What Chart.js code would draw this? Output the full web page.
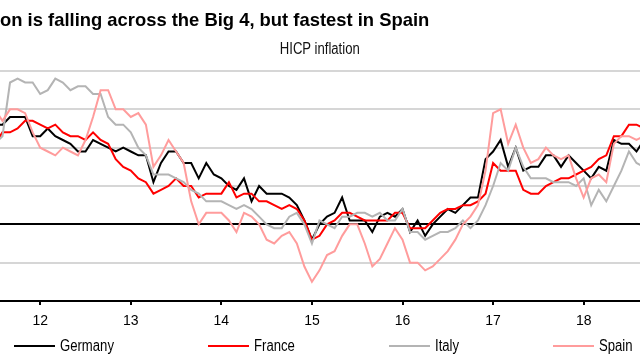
<!DOCTYPE html>
<html>
<head>
<meta charset="utf-8">
<script src="https://cdn.jsdelivr.net/npm/chart.js@4"></script>
<style>
html,body{margin:0;padding:0;background:#fff;}
#wrap{position:relative;width:640px;height:360px;overflow:hidden;background:#fff;}
#c{position:absolute;left:0;top:0;}
#title{position:absolute;left:-49px;top:11px;font-family:'Liberation Sans',Arial,sans-serif;font-weight:bold;font-size:18.4px;line-height:18px;white-space:nowrap;color:#000;}
#subtitle{position:absolute;left:0;top:41px;width:640px;text-align:center;font-family:'Liberation Sans',Arial,sans-serif;font-size:16px;line-height:16px;color:#111;}
#subtitle span{display:inline-block;transform:scaleX(0.82);transform-origin:50% 50%;}
#legend{position:absolute;left:14px;top:338px;display:flex;gap:94px;font-family:'Liberation Sans',Arial,sans-serif;font-size:16px;line-height:16px;color:#000;white-space:nowrap;}
.item{display:flex;align-items:center;}
.swatch{width:41px;height:2px;margin-right:5px;flex:none;}
.tbox{overflow:visible;}
.tbox span{display:inline-block;transform:scaleX(0.82);transform-origin:0 50%;}
</style>
</head>
<body>
<div id="wrap">
  <canvas id="c" width="640" height="360"></canvas>
  <div id="title">Inflation is falling across the Big 4, but fastest in Spain</div>
  <div id="subtitle"><span>HICP inflation</span></div>
  <div id="legend"></div>
</div>
<script>
// ---- data ----
const seriesNames = ['Germany', 'France', 'Italy', 'Spain'];
const seriesColors = ['#000000', '#ff0000', '#b4b4b4', '#ff9c9c'];
// monthly, July 2011 .. September 2018
const startYear = 2011, startMonth = 7;
const germany = [
  2.6, 2.6, 2.8, 2.8, 2.8, 2.3,
  2.3, 2.5, 2.3, 2.2, 2.1, 1.9, 1.9, 2.2, 2.1, 2.0, 1.9, 2.0,
  1.9, 1.8, 1.8, 1.1, 1.6, 1.9, 1.9, 1.6, 1.6, 1.2, 1.6, 1.3,
  1.2, 1.0, 0.9, 1.2, 0.6, 1.0, 0.8, 0.8, 0.8, 0.7, 0.5, 0.1,
  -0.4, 0.0, 0.2, 0.3, 0.7, 0.1, 0.1, 0.1, -0.2, 0.2, 0.3, 0.2,
  0.4, -0.2, 0.1, -0.3, 0.0, 0.2, 0.4, 0.3, 0.5, 0.7, 0.7, 1.7,
  1.9, 2.2, 1.5, 2.0, 1.4, 1.5, 1.5, 1.8, 1.8, 1.5, 1.8, 1.6,
  1.4, 1.2, 1.5, 1.4, 2.2, 2.1, 2.1, 1.9, 2.2
];
const france = [
  2.1, 2.4, 2.4, 2.5, 2.7, 2.7,
  2.6, 2.5, 2.6, 2.4, 2.3, 2.3, 2.2, 2.4, 2.2, 2.1, 1.7, 1.5,
  1.4, 1.2, 1.1, 0.8, 0.9, 1.0, 1.2, 1.0, 1.0, 0.7, 0.8, 0.8,
  0.8, 1.1, 0.7, 0.8, 0.8, 0.6, 0.6, 0.5, 0.4, 0.5, 0.4, 0.1,
  -0.4, -0.3, 0.0, 0.1, 0.3, 0.3, 0.2, 0.1, 0.1, 0.1, 0.1, 0.3,
  0.3, -0.1, -0.1, -0.1, 0.1, 0.3, 0.4, 0.4, 0.5, 0.5, 0.6, 0.8,
  1.6, 1.4, 1.4, 1.4, 0.9, 0.8, 0.8, 1.0, 1.1, 1.2, 1.2, 1.3,
  1.4, 1.5, 1.7, 1.8, 2.3, 2.3, 2.6, 2.6, 2.5
];
const italy = [
  2.1, 2.3, 3.7, 3.8, 3.7, 3.7,
  3.4, 3.5, 3.8, 3.7, 3.5, 3.6, 3.6, 3.4, 3.4, 2.8, 2.6, 2.6,
  2.4, 2.0, 1.8, 1.3, 1.3, 1.3, 1.2, 1.1, 0.9, 0.8, 0.6, 0.6,
  0.6, 0.5, 0.4, 0.5, 0.4, 0.2, 0.0, -0.1, -0.1, 0.2, 0.3, 0.0,
  -0.5, 0.1, 0.0, -0.1, 0.2, 0.2, 0.3, 0.3, 0.2, 0.3, 0.1, 0.1,
  0.4, -0.2, -0.2, -0.4, -0.3, -0.2, -0.2, -0.1, 0.1, -0.1, 0.1, 0.5,
  1.0, 1.6, 1.4, 2.0, 1.5, 1.2, 1.2, 1.2, 1.1, 1.1, 1.1, 1.0,
  1.2, 0.5, 0.9, 0.6, 1.0, 1.4, 1.9, 1.6, 1.5
];
const spain = [
  3.0, 2.7, 3.0, 3.0, 2.9, 2.4,
  2.0, 1.9, 1.8, 2.0, 1.9, 1.8, 2.2, 2.8, 3.5, 3.5, 3.0, 3.0,
  2.8, 2.9, 2.6, 1.5, 1.8, 2.2, 1.9, 1.6, 0.6, 0.0, 0.3, 0.3,
  0.3, 0.1, -0.2, 0.3, 0.2, 0.0, -0.4, -0.5, -0.3, -0.2, -0.5, -1.1,
  -1.5, -1.2, -0.8, -0.7, -0.3, 0.0, 0.0, -0.5, -1.1, -0.9, -0.5, -0.1,
  -0.4, -1.0, -1.0, -1.2, -1.1, -0.9, -0.7, -0.4, 0.0, 0.2, 0.5, 1.4,
  2.9, 3.0, 2.1, 2.6, 2.0, 1.6, 1.7, 2.0, 1.8, 1.7, 1.8, 1.2,
  0.7, 1.2, 1.3, 1.1, 2.1, 2.3, 2.3, 2.2, 2.3
];
const yearTicks = [12, 13, 14, 15, 16, 17, 18];
const tickLabels = ['12', '13', '14', '15', '16', '17', '18'];
const yTicks = [-2, -1, 0, 1, 2, 3, 4];

const seriesValues = [germany, france, italy, spain];

// month index -> position on a two-digit year axis (Jan 2012 = 12)
function monthPos(i) {
  return (startYear % 100) + (startMonth - 1 + i) / 12;
}

const datasets = seriesNames.map((name, k) => ({
  label: name,
  data: seriesValues[k].map((v, i) => ({ x: monthPos(i), y: v })),
  borderColor: seriesColors[k],
  backgroundColor: seriesColors[k],
  borderWidth: 2,
  pointRadius: 0,
  tension: 0,
  order: seriesNames.length - k
}));

new Chart(document.getElementById('c').getContext('2d'), {
  type: 'line',
  data: { datasets },
  options: {
    responsive: false,
    animation: false,
    devicePixelRatio: 1,
    layout: { padding: { top: 71, left: 0, right: 0, bottom: 0 } },
    plugins: { legend: { display: false }, tooltip: { enabled: false } },
    scales: {
      x: {
        type: 'linear',
        min: 11.556,
        max: 18.622,
        afterBuildTicks: s => { s.ticks = yearTicks.map(v => ({ value: v })); },
        afterFit: s => { s.height = 59; },
        ticks: {
          callback: (v, i) => tickLabels[i],
          font: { family: "'Liberation Sans', Arial, sans-serif", size: 14 },
          color: '#000',
          padding: 8,
          maxRotation: 0,
          autoSkip: false
        },
        grid: { drawOnChartArea: false, drawTicks: true, tickLength: 4, color: '#000', lineWidth: 2 },
        border: { display: true, color: '#000', width: 2 }
      },
      y: {
        min: -2,
        max: 4,
        afterBuildTicks: s => { s.ticks = yTicks.map(v => ({ value: v })); },
        afterFit: s => { s.width = 0; },
        ticks: { display: false },
        grid: {
          color: c => (c.tick && (c.tick.value === 0 || c.tick.value === -2)) ? '#000' : '#d6d6d6',
          lineWidth: 2,
          drawTicks: false
        },
        border: { display: false }
      }
    }
  }
});

// legend built from the series arrays
const legend = document.getElementById('legend');
seriesNames.forEach((name, k) => {
  const item = document.createElement('div');
  item.className = 'item';
  const sw = document.createElement('span');
  sw.className = 'swatch';
  sw.style.background = seriesColors[k];
  const box = document.createElement('div');
  box.className = 'tbox';
  const tx = document.createElement('span');
  tx.textContent = name;
  box.appendChild(tx);
  item.appendChild(sw);
  item.appendChild(box);
  legend.appendChild(item);
  box.style.width = Math.round(tx.getBoundingClientRect().width) + 'px';
});
</script>
</body>
</html>
